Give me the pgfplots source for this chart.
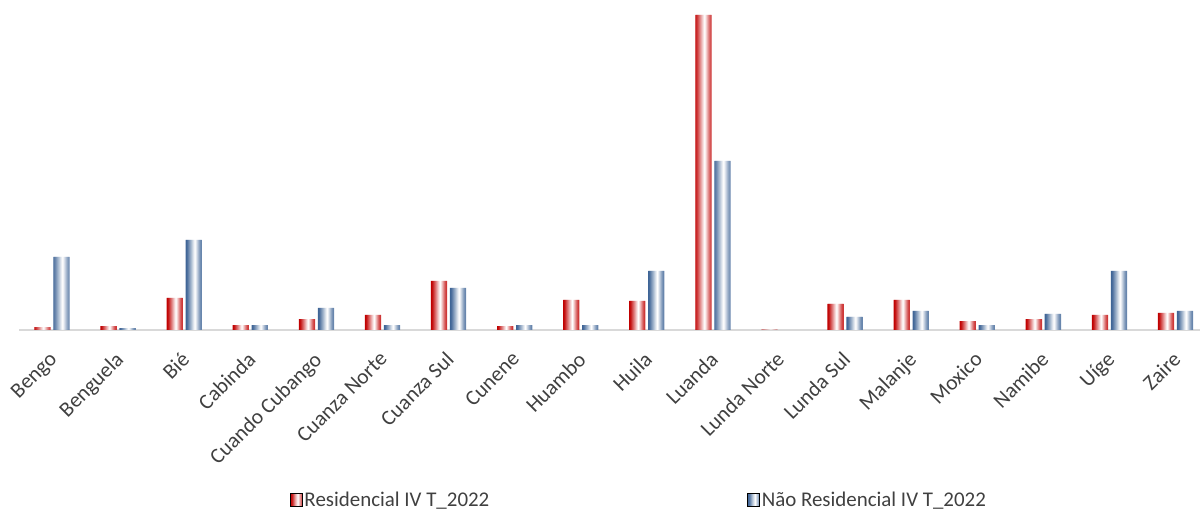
\documentclass[border=0pt]{standalone}
\usepackage{pgfplots}
\usepackage{pgfplotstable}
\pgfplotsset{compat=1.18}
\usepackage{fontspec}
\setmainfont{Carlito}
\definecolor{rd}{HTML}{C00000}
\definecolor{bl}{HTML}{3E6496}
\definecolor{txt}{HTML}{404040}
\pgfdeclarehorizontalshading{redbar}{100bp}{color(0bp)=(rd); color(25bp)=(rd); color(33bp)=(rd!85!white); color(45bp)=(rd!35!white); color(56bp)=(white); color(66bp)=(rd!45!white); color(75bp)=(rd!80!white); color(100bp)=(rd!80!white)}
\pgfdeclarehorizontalshading{bluebar}{100bp}{color(0bp)=(bl); color(25bp)=(bl); color(33bp)=(bl!85!white); color(45bp)=(bl!35!white); color(56bp)=(white); color(66bp)=(bl!45!white); color(75bp)=(bl!80!white); color(100bp)=(bl!80!white)}
\pgfplotstableread{
x r n
0 3 73
1 4 2
2 32 90
3 5 5
4 11 22
5 15 5
6 49 42
7 4 5
8 30 5
9 29 59
10 315 169
11 0.5 0
12 26 13
13 30 19
14 9 5
15 11 16
16 15 59
17 17 19
}\data
\newcommand{\rstrip}[2]{\addplot[ybar, bar width=1.3bp, bar shift={#1bp}, fill=rd!#2!white, draw=none, forget plot] table[x=x,y=r]{\data};}
\newcommand{\bstrip}[2]{\addplot[ybar, bar width=1.3bp, bar shift={#1bp}, fill=bl!#2!white, draw=none, forget plot] table[x=x,y=n]{\data};}
\begin{document}
\begin{tikzpicture}
\begin{axis}[
  at={(19bp,181bp)}, anchor=south west,
  scale only axis, width=1181bp, height=320bp,
  xmin=-0.5, xmax=17.37, ymin=0, ymax=320,
  axis x line=bottom, axis y line=none,
  x axis line style={draw=black!15, line width=2bp, -},
  xtick={0,...,17}, major tick length=0pt,
  xticklabels={Bengo,Benguela,Bié,Cabinda,Cuando Cubango,Cuanza Norte,Cuanza Sul,Cunene,Huambo,Huila,Luanda,Lunda Norte,Lunda Sul,Malanje,Moxico,Namibe,Uíge,Zaire},
  xticklabel style={rotate=45, anchor=north east, text=txt, font=\fontsize{21.5}{25}\selectfont, inner sep=1bp, yshift=-10.5bp, xshift=-16.2bp},
  legend columns=2,
  legend style={at={(0.525,-0.531)}, anchor=center, draw=none, fill=none, font=\fontsize{21}{25}\selectfont, text=txt, /tikz/every even column/.append style={column sep=256bp}},
]
\rstrip{-17}{100}\rstrip{-16}{95}\rstrip{-15}{85}\rstrip{-14}{72}
\rstrip{-13}{60}\rstrip{-12}{48}\rstrip{-11}{35}\rstrip{-10}{22}
\rstrip{-9}{10}\rstrip{-8}{0}\rstrip{-7}{10}\rstrip{-6}{25}
\rstrip{-5}{40}\rstrip{-4}{55}\rstrip{-3}{68}\rstrip{-2}{78}
\bstrip{2}{100}\bstrip{3}{95}\bstrip{4}{85}\bstrip{5}{72}
\bstrip{6}{60}\bstrip{7}{48}\bstrip{8}{35}\bstrip{9}{22}
\bstrip{10}{10}\bstrip{11}{0}\bstrip{12}{10}\bstrip{13}{25}
\bstrip{14}{40}\bstrip{15}{55}\bstrip{16}{68}\bstrip{17}{78}
\addlegendimage{legend image code/.code={\path[shading=redbar] (0bp,-6.5bp) rectangle (12bp,6.5bp);}}
\addlegendentry{Residencial IV T\_2022}
\addlegendimage{legend image code/.code={\path[shading=bluebar] (0bp,-6.5bp) rectangle (12bp,6.5bp);}}
\addlegendentry{Não Residencial IV T\_2022}
\end{axis}
\pgfresetboundingbox
\path[use as bounding box] (0,0) rectangle (1200bp,511bp);
\end{tikzpicture}
\end{document}
